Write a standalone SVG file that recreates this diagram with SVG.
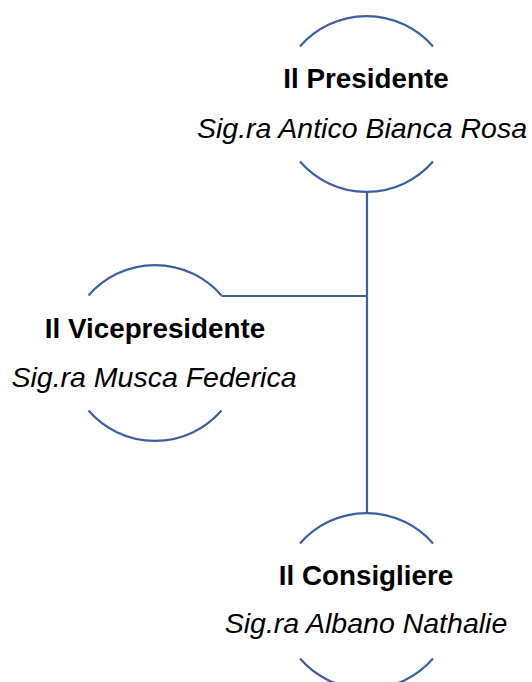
<svg xmlns="http://www.w3.org/2000/svg" width="532" height="682" viewBox="0 0 532 682">
<style>
.arc{fill:none;stroke:#3C5FA5;stroke-width:2.2}
.conn{fill:none;stroke:#3C5FA5;stroke-width:2.2}
.t1{font-family:"Liberation Sans",Arial,sans-serif;font-size:27.8px;font-weight:bold;fill:#000;text-anchor:middle}
.t2{font-family:"Liberation Sans",Arial,sans-serif;font-size:28.5px;font-style:italic;fill:#000;text-anchor:middle}
</style>
<rect width="532" height="682" fill="#fff"/>
<g id="connectors">
<path class="conn" d="M367,192 V513"/>
<path class="conn" d="M221.5,296 H367"/>
</g>
<g id="node-presidente">
<path class="arc" d="M300,46.5 A88,88 0 0 1 433,46.5"/>
<path class="arc" d="M300,161.5 A88,88 0 0 0 433,161.5"/>
<text class="t1" x="366" y="88">Il Presidente</text>
<text class="t2" x="362" y="138">Sig.ra Antico Bianca Rosa</text>
</g>
<g id="node-vicepresidente">
<path class="arc" d="M88.5,295.5 A88,88 0 0 1 221.5,295.5"/>
<path class="arc" d="M88.5,410.5 A88,88 0 0 0 221.5,410.5"/>
<text class="t1" x="155" y="338">Il Vicepresidente</text>
<text class="t2" x="154" y="387">Sig.ra Musca Federica</text>
</g>
<g id="node-consigliere">
<path class="arc" d="M300,543.5 A88,88 0 0 1 433,543.5"/>
<path class="arc" d="M300,658.5 A88,88 0 0 0 433,658.5"/>
<text class="t1" x="366" y="585">Il Consigliere</text>
<text class="t2" x="366" y="633">Sig.ra Albano Nathalie</text>
</g>
</svg>
